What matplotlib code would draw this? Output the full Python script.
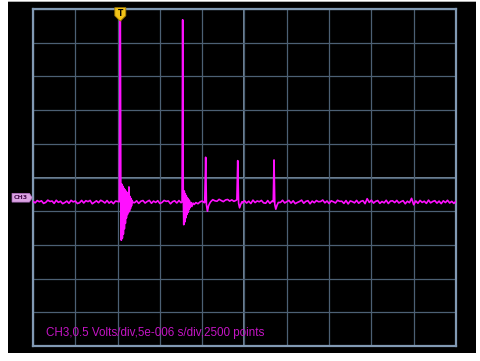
import numpy as np
import matplotlib.pyplot as plt
from matplotlib.patches import Polygon, Rectangle
from matplotlib.transforms import blended_transform_factory

# scope settings
volts_per_div = 0.5
sec_per_div = 5e-6
n_points = 2500
trig_time = 10.32      # us from left edge of screen
ch3_marker = -0.30     # V, channel offset marker
base_level = -0.364    # V, resting level of the trace

# baseline ripple, one sample every 0.25 us (mV about base_level)
ripple_mv = [
    10, -12, 22, 4, 18, -20, -6, 28, 8, 15, -20, 26, -5, 12, -24, -8, 14, -18, 25, 2,
    15, -22, -10, 24, -14, 20, 6, 24, -26, -4, 18, -10, 26, 10, -14, 22, -16, 10, -24, 14,
    8, -12, 20, -6, 14, -18, 10, -8, -10, 18, -20, 12, 22, -15, 8, 25, -18, 14, -6, 20,
    -22, -6, 24, 10, 16, -26, 6, 18, -14, 22, -10, 12, -15, 8, -18, 5, -20, -8, -25, 2,
    15, -10, 20, 30, 4, 35, 18, 12, 40, 22, 6, 30, 38, 14, 32, 10, 25, -5, 18, -12,
    20, -15, 12, -22, 28, -8, 16, 4, 24, -12, -18, 22, -20, 14, -28, 10, 18, -6, 26, -14,
    6, 24, -16, 18, -24, -6, 8, 28, -18, 10, 20, -26, 14, -10, 22, 4, 8, 30, -12, 16,
    -22, 18, 4, -14, 26, 10, 12, -20, 22, -28, 16, 6, -12, 24, -18, 10, 20, -24, 50, -6,
    28, -16, 10, 22, -20, 8, -12, 26, -22, 14, 18, -8, 24, -14, 6, 20, -26, 12, -10, 55,
    -40, 16, -18, 24, -6, 12, -20, 28, -12, 8, 20, -16, 14, -24, 18, -8, 26, -14, 10, -20,
    12,
]

# main discharge at the trigger point (us, V)
burst1_t = [10.20, 10.32, 10.38, 10.44, 10.50, 10.56, 10.62, 10.68, 10.74, 10.80, 10.86,
            10.92, 10.98, 11.04, 11.10, 11.16, 11.22, 11.28, 11.34, 11.40, 11.46, 11.52,
            11.58, 11.64, 11.72, 11.80]
burst1_v = [-0.36, 2.60, -0.12, -0.93, -0.10, -0.90, -0.13, -0.84, -0.16, -0.76, -0.18,
            -0.68, -0.20, -0.60, -0.22, -0.55, -0.25, -0.52, -0.14, -0.50, -0.28, -0.46,
            -0.31, -0.42, -0.34, -0.37]

# second discharge
burst2_t = [17.62, 17.69, 17.76, 17.82, 17.88, 17.94, 18.00, 18.06, 18.12, 18.18, 18.24,
            18.30, 18.36, 18.42, 18.48, 18.56, 18.66, 18.78, 18.92, 19.06]
burst2_v = [-0.36, 2.34, -0.22, -0.70, -0.20, -0.66, -0.24, -0.60, -0.27, -0.55, -0.30,
            -0.52, -0.32, -0.48, -0.34, -0.45, -0.37, -0.43, -0.38, -0.40]

# small pulses
spike3_t = [20.30, 20.41, 20.50, 20.62, 20.75, 20.90]
spike3_v = [-0.37, 0.30, -0.40, -0.50, -0.42, -0.38]
spike4_t = [24.10, 24.20, 24.30, 24.42, 24.55, 24.70]
spike4_v = [-0.33, 0.25, -0.38, -0.45, -0.40, -0.36]
spike5_t = [28.40, 28.49, 28.58, 28.70, 28.85, 29.00]
spike5_v = [-0.36, 0.26, -0.40, -0.47, -0.41, -0.37]

events = [(burst1_t, burst1_v), (burst2_t, burst2_v), (spike3_t, spike3_v),
          (spike4_t, spike4_v), (spike5_t, spike5_v)]

# build the trace: baseline samples outside the events, event samples inside
t_grid = np.arange(len(ripple_mv)) * 0.25
v_grid = base_level + np.array(ripple_mv) / 1000.0
keep = np.ones(len(t_grid), dtype=bool)
for et, ev in events:
    keep &= (t_grid < et[0]) | (t_grid > et[-1])
t = np.concatenate([t_grid[keep]] + [np.array(et) for et, ev in events])
v = np.concatenate([v_grid[keep]] + [np.array(ev) for et, ev in events])
order = np.argsort(t)
t, v = t[order], v[order]

screen_us = 10 * sec_per_div * 1e6
half_v = 5 * volts_per_div

fig = plt.figure(figsize=(4.81, 3.61), dpi=100, facecolor='white')
# scope screen behind the graticule
screen = Rectangle((8 / 481, 8 / 361), 468 / 481, 351 / 361,
                   transform=fig.transFigure, facecolor='black',
                   edgecolor='none', zorder=-10)
topline = Rectangle((8 / 481, 359 / 361), 468 / 481, 1.5 / 361,
                    transform=fig.transFigure, facecolor='#b0b0b0',
                    edgecolor='none', zorder=-10)
fig.patches.extend([screen, topline])

ax = fig.add_axes([33 / 481, 15 / 361, 423 / 481, 337 / 361])
ax.set_facecolor('black')
ax.set_xlim(0, screen_us)
ax.set_ylim(-half_v, half_v)
ax.set_xticks(np.arange(0, screen_us + 0.1, sec_per_div * 1e6))
ax.set_yticks(np.arange(-half_v, half_v + 0.01, volts_per_div))
ax.tick_params(length=0, labelbottom=False, labelleft=False)
ax.grid(True, color='#4c6074', lw=0.9)
ax.axvline(screen_us / 2, color='#93abc3', lw=1.1, zorder=1)
ax.axhline(0, color='#93abc3', lw=1.1, zorder=1)
for s in ax.spines.values():
    s.set_color('#8199b3')
    s.set_linewidth(1.6)

ax.plot(t, v, color='#ff10ff', lw=1.2, zorder=3)

# trigger marker
tw, y0 = 0.65, half_v
trig = Polygon([(trig_time - tw, y0 + 0.02), (trig_time + tw, y0 + 0.02),
                (trig_time + tw, y0 - 0.10), (trig_time, y0 - 0.18),
                (trig_time - tw, y0 - 0.10)],
               closed=True, facecolor='#f2c318', edgecolor='#a07800', lw=0.6,
               zorder=5, clip_on=False)
ax.add_patch(trig)
ax.text(trig_time, y0 - 0.065, 'T', ha='center', va='center', fontsize=5.5,
        fontweight='bold', color='black', zorder=6, clip_on=False)

# channel marker on the left
bt = blended_transform_factory(ax.transAxes, ax.transData)
ch = Polygon([(-0.0496, ch3_marker + 0.065), (-0.0085, ch3_marker + 0.065),
              (-0.0017, ch3_marker), (-0.0085, ch3_marker - 0.065),
              (-0.0496, ch3_marker - 0.065)],
             closed=True, transform=bt, facecolor='#dca4e4', edgecolor='#b070c0',
             lw=0.5, clip_on=False, zorder=5)
ax.add_patch(ch)
ax.text(-0.029, ch3_marker, 'CH3', transform=bt, ha='center', va='center',
        fontsize=4.5, fontweight='bold', color='#4a1050', clip_on=False, zorder=6)

ax.text(0.031, 0.040, 'CH3,0.5 Volts/div,5e-006 s/div,2500 points',
        transform=ax.transAxes, ha='left', va='center', fontsize=8.4,
        family='Liberation Sans', color='#c414c4', zorder=6)

fig.savefig('out.png', dpi=100, facecolor='white')
